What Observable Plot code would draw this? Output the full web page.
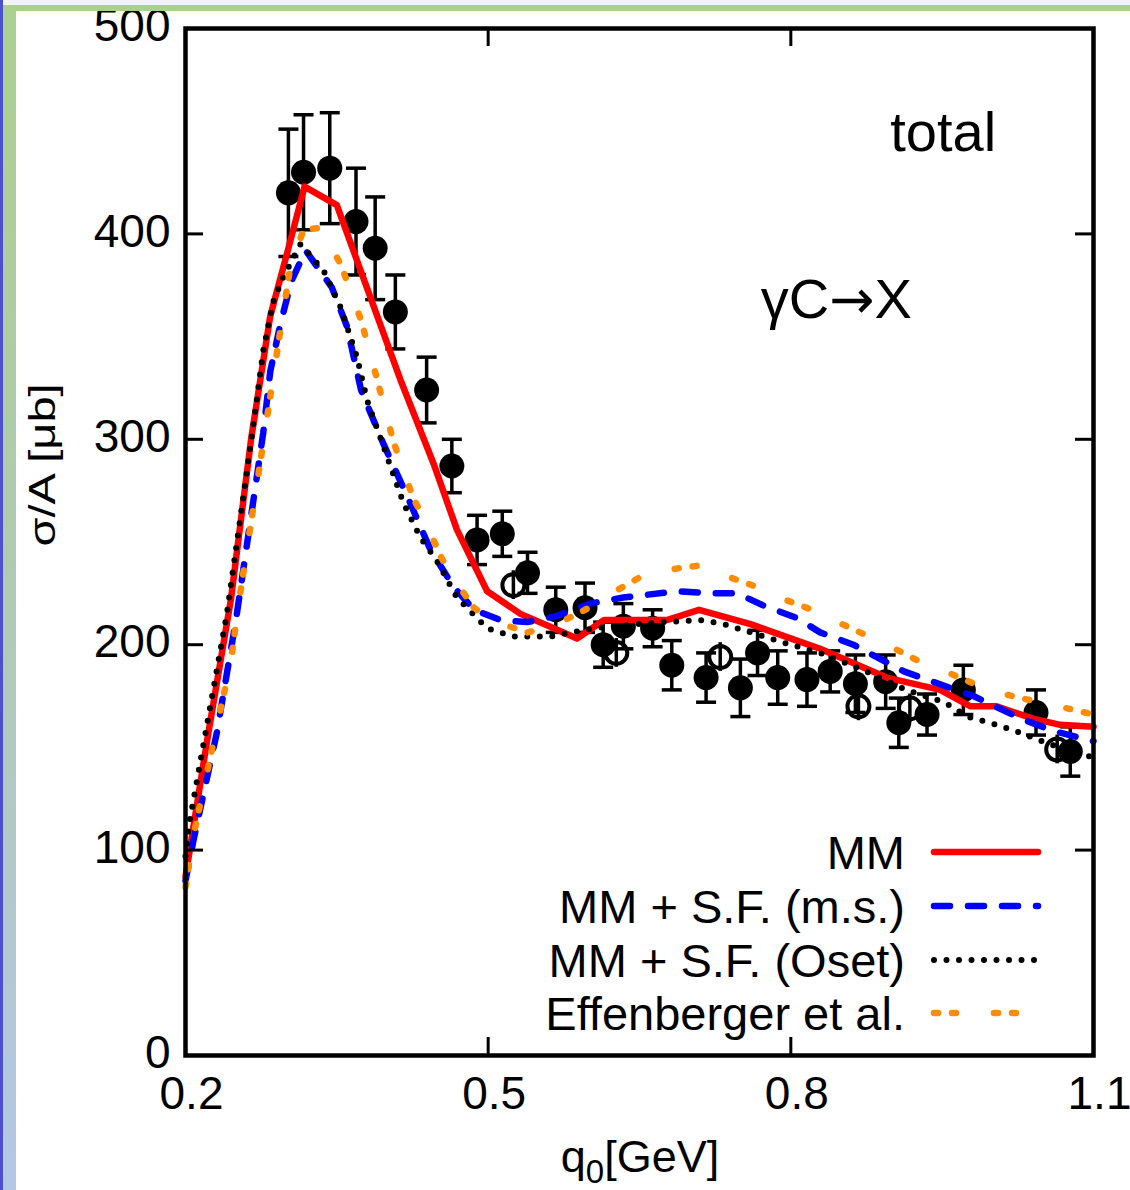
<!DOCTYPE html>
<html><head><meta charset="utf-8">
<script src="https://cdn.jsdelivr.net/npm/d3@7"></script>
<script src="https://cdn.jsdelivr.net/npm/@observablehq/plot@0.6"></script>
<style>
body{margin:0;background:#fff;}
#wrap{position:relative;width:1130px;height:1190px;overflow:hidden;font-family:"Liberation Sans",Arial,sans-serif;color:#000;}
#wrap svg{position:absolute;left:0;top:0;}
.strip{position:absolute;}
#xlabel{position:absolute;left:0;width:1280px;top:1134px;text-align:center;font-size:45px;line-height:45px;}
#xlabel sub{font-size:33px;vertical-align:-11px;line-height:0;}
#ylabel{position:absolute;left:42px;top:465px;transform:translate(-50%,-50%) rotate(-90deg) scale(1,0.78);font-size:47px;line-height:47px;white-space:nowrap;}
#legend{position:absolute;left:0;top:0;width:1130px;height:1190px;pointer-events:none;}
.lrow{position:absolute;right:225px;font-size:47px;line-height:47px;white-space:nowrap;transform:translateY(-50%);}
</style></head><body>
<div id="wrap"></div>
<script>
// ---- tick values ----
const xTicks = [0.2, 0.5, 0.8, 1.1];
const yTicks = [0, 100, 200, 300, 400, 500];
const xInnerTicks = [0.5, 0.8];
const yInnerTicks = [100, 200, 300, 400];

// ---- measured data (filled circles) ----
const dataX = [0.302,0.317,0.343,0.369,0.388,0.408,0.439,0.464,0.489,0.514,0.539,0.567,0.596,0.614,0.634,0.663,0.682,0.716,0.750,0.767,0.787,0.816,0.839,0.864,0.894,0.907,0.935,0.971,1.043,1.077];
const dataY = [420,430,432,406,393,362,324,287,251,254,235,217,218,200,209,208,190,184,179,196,184,183,187,181,182,162,166,178,167,148];
const dataErr = [31,28,27,26,25,18,16,13,12,11,10,11,12,11,11,9,12,12,14,11,13,13,10,14,13,12,10,12,11,12];

// ---- measured data (open circles) ----
const openX = [0.525,0.627,0.730,0.867,0.918,1.064];
const openY = [229,196,194,170,169,149];
const openErr = [7,7,7,7,7,7];

// ---- MM (red solid) ----
const mmX = [0.2,0.222,0.245,0.265,0.284,0.302,0.318,0.35,0.413,0.446,0.469,0.499,0.532,0.565,0.588,0.615,0.677,0.709,0.76,0.806,0.829,0.895,0.948,0.978,1.004,1.04,1.067,1.1];
const mmY = [87,155,222,300,360,393,423,414,329,288,256,226,215,208,203,212,212,217,210,202,198,184,178,170,170,164,161,160];

// ---- MM + S.F. (m.s.) (blue dashed) ----
const msX = [0.2,0.208,0.231,0.25,0.277,0.284,0.294,0.305,0.319,0.345,0.36,0.374,0.396,0.42,0.443,0.466,0.486,0.512,0.539,0.568,0.601,0.634,0.687,0.72,0.747,0.773,0.806,0.829,0.862,0.912,0.952,0.981,1.028,1.06,1.1];
const msY = [85,105,157,212,303,333,356,377,392,374,355,324,298,272,246,228,217,212,211,214,220,223,226,225,225,219,213,206,200,187,180,175,164,158,153];

// ---- MM + S.F. (Oset) (black dotted) ----
const osetX = [0.2,0.203,0.241,0.267,0.277,0.287,0.297,0.314,0.337,0.354,0.37,0.38,0.393,0.416,0.433,0.449,0.469,0.489,0.499,0.525,0.562,0.605,0.648,0.674,0.71,0.734,0.76,0.793,0.829,0.87,0.914,0.952,0.975,1.004,1.028,1.054,1.08,1.1];
const osetY = [97,111,215,306,343,367,379,395,382,364,340,319,301,269,252,241,223,213,208,204,204,208,210,211,212,210,206,201,196,188,178,172,165,161,157,152,148,145];

// ---- Effenberger et al. (orange) ----
const effX = [0.2,0.207,0.245,0.253,0.294,0.304,0.317,0.334,0.354,0.36,0.374,0.39,0.406,0.426,0.436,0.453,0.463,0.486,0.502,0.539,0.562,0.598,0.615,0.651,0.671,0.71,0.727,0.767,0.783,0.823,0.843,0.879,0.899,0.935,0.955,0.991,1.011,1.054,1.074,1.1];
const effY = [82,105,192,221,353,384,402,403,385,377,358,329,299,271,262,243,234,218,212,206,208.5,217.5,223,233,236,238.6,235,228,224,216.6,211.8,203.6,199,190,186.6,179,176,171,169,166];

// ---- texts ----
const annText = ["total", "γC→X"];
const annX = [0.951, 0.845];
const annY = [449, 368];
const legendLabels = ["MM", "MM + S.F. (m.s.)", "MM + S.F. (Oset)", "Effenberger et al."];
const yLabel = "σ/A [μb]";

// ---- styles ----
const series = [
  {x: mmX, y: mmY, stroke: "#ff0000", width: 6.5, dash: null, cap: "round"},
  {x: msX, y: msY, stroke: "#0000ff", width: 6.5, dash: "16,18", cap: "round"},
  {x: osetX, y: osetY, stroke: "#000000", width: 6, dash: "0,12.5", cap: "round"},
  {x: effX, y: effY, stroke: "#ff8c00", width: 6.5, dash: "4,14,4,38", cap: "round"}
];

const toRows = (xs, ys) => xs.map((x, i) => ({x, y: ys[i]}));
const filled = dataX.map((x, i) => ({x, y: dataY[i], lo: dataY[i] - dataErr[i], hi: dataY[i] + dataErr[i]}));
const open = openX.map((x, i) => ({x, y: openY[i], lo: openY[i] - openErr[i], hi: openY[i] + openErr[i]}));

const capSymbol = {draw(ctx, size) { const r = Math.sqrt(size / Math.PI); ctx.moveTo(-r, 0); ctx.lineTo(r, 0); }};

const W = 1130, H = 1190, mL = 185, mR = 37, mT = 28, mB = 135;
const fw = W - mL - mR, fh = H - mT - mB, tl = 18;

const plot = Plot.plot({
  width: W, height: H, marginLeft: mL, marginRight: mR, marginTop: mT, marginBottom: mB,
  style: {fontFamily: "Liberation Sans, Arial, sans-serif", background: "transparent", color: "#000", overflow: "visible"},
  x: {domain: [0.2, 1.1]},
  y: {domain: [0, 500]},
  marks: [
    Plot.axisX({ticks: xTicks, tickSize: 0, tickPadding: 21, fontSize: 46, dx: 6, tickFormat: d => d.toFixed(1), label: null}),
    Plot.axisY({ticks: yTicks, tickSize: 0, tickPadding: 15, fontSize: 46, dy: -2, tickFormat: d => String(d), label: null}),
    // error bars & points (filled)
    Plot.ruleX(filled, {x: "x", y1: "lo", y2: "hi", stroke: "#000", strokeWidth: 3.5}),
    Plot.dot(filled, {x: "x", y: "hi", symbol: capSymbol, r: 10, stroke: "#000", strokeWidth: 3.5}),
    Plot.dot(filled, {x: "x", y: "lo", symbol: capSymbol, r: 10, stroke: "#000", strokeWidth: 3.5}),
    Plot.dot(filled, {x: "x", y: "y", r: 12.5, fill: "#000", stroke: "none"}),
    // open circles
    Plot.ruleX(open, {x: "x", y1: "lo", y2: "hi", stroke: "#000", strokeWidth: 3.5}),
    Plot.dot(open, {x: "x", y: "y", r: 11, fill: "none", stroke: "#000", strokeWidth: 4}),
    // curves
    ...series.map(s => Plot.line(toRows(s.x, s.y), {x: "x", y: "y", stroke: s.stroke, strokeWidth: s.width,
      strokeDasharray: s.dash, strokeLinecap: s.cap, strokeLinejoin: "round"})),
    // annotations
    Plot.text(annText, {x: (d, i) => annX[i], y: (d, i) => annY[i], text: d => d, fontSize: 56, fill: "#000"}),
    // inward ticks
    Plot.tickX(xInnerTicks, {x: d => d, stroke: "#000", strokeWidth: 3, insetTop: fh - tl}),
    Plot.tickX(xInnerTicks, {x: d => d, stroke: "#000", strokeWidth: 3, insetBottom: fh - tl}),
    Plot.tickY(yInnerTicks, {y: d => d, stroke: "#000", strokeWidth: 3, insetRight: fw - tl}),
    Plot.tickY(yInnerTicks, {y: d => d, stroke: "#000", strokeWidth: 3, insetLeft: fw - tl}),
    Plot.frame({stroke: "#000", strokeWidth: 4.5})
  ]
});

// larger arrow glyph in the reaction label
plot.querySelectorAll("text").forEach(t => {
  if (t.textContent.includes("→")) {
    const parts = t.textContent.split("→");
    t.textContent = "";
    const ns = "http://www.w3.org/2000/svg";
    const a = document.createElementNS(ns, "tspan"); a.textContent = parts[0];
    const b = document.createElementNS(ns, "tspan"); b.textContent = "→"; b.setAttribute("font-family", "DejaVu Sans"); b.setAttribute("font-size", "54");
    const c = document.createElementNS(ns, "tspan"); c.textContent = parts[1];
    t.append(a, b, c);
  }
});

const wrap = document.getElementById("wrap");
wrap.appendChild(plot);

// page decoration strips
const addStrip = (css) => { const d = document.createElement("div"); d.className = "strip"; Object.assign(d.style, css); wrap.appendChild(d); };
addStrip({left: "0px", top: "0px", width: "1130px", height: "5px", background: "#f3f3f3"});
addStrip({left: "0px", top: "5px", width: "1130px", height: "6px", background: "#a9d18e"});
addStrip({left: "3px", top: "5px", width: "13px", height: "1185px", background: "linear-gradient(#a9d18e, #aecbb4 50%, #b4c7e7)"});
addStrip({left: "0px", top: "0px", width: "3px", height: "1190px", background: "#4b50cc"});

// axis titles
const xl = document.createElement("div"); xl.id = "xlabel"; xl.innerHTML = "q<sub>0</sub>[GeV]"; wrap.appendChild(xl);
const yl = document.createElement("div"); yl.id = "ylabel"; yl.textContent = yLabel; wrap.appendChild(yl);

// legend
const legendY = [852, 906, 960, 1013];
const leg = document.createElement("div"); leg.id = "legend";
let svgLines = `<svg width="1130" height="1190" style="position:absolute;left:0;top:0">`;
legendLabels.forEach((lab, i) => {
  const s = series[i];
  svgLines += `<line x1="934" x2="1038" y1="${legendY[i]}" y2="${legendY[i]}" stroke="${s.stroke}" stroke-width="${s.width}" ${s.dash ? `stroke-dasharray="${s.dash}"` : ""} stroke-linecap="${s.cap}"/>`;
});
svgLines += `</svg>`;
leg.innerHTML = svgLines + legendLabels.map((lab, i) => `<div class="lrow" style="top:${legendY[i]}px">${lab}</div>`).join("");
wrap.appendChild(leg);
</script>
</body></html>
